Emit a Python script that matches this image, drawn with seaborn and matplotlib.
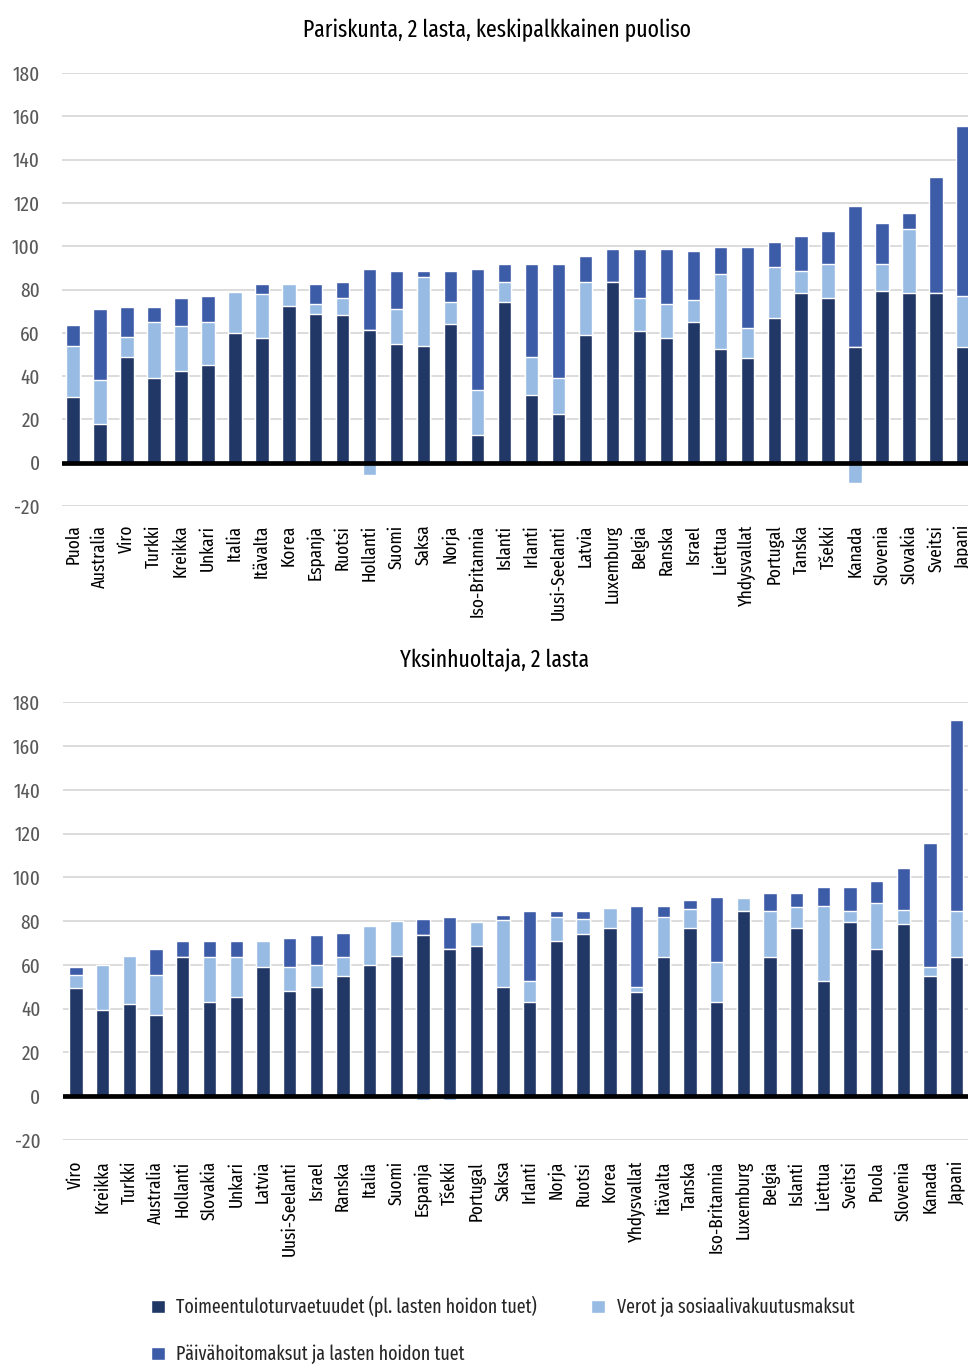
import numpy as np
import matplotlib
matplotlib.use("Agg")
import matplotlib.pyplot as plt
import seaborn as sns
from matplotlib.patches import Patch
from matplotlib import font_manager

# Couple with two children, spouse on average wage
couple_countries = ["Puola", "Australia", "Viro", "Turkki", "Kreikka", "Unkari", "Italia",
                    "Itävalta", "Korea", "Espanja", "Ruotsi", "Hollanti", "Suomi", "Saksa",
                    "Norja", "Iso-Britannia", "Islanti", "Irlanti", "Uusi-Seelanti", "Latvia",
                    "Luxemburg", "Belgia", "Ranska", "Israel", "Liettua", "Yhdysvallat",
                    "Portugal", "Tanska", "Tšekki", "Kanada", "Slovenia", "Slovakia",
                    "Sveitsi", "Japani"]
couple_benefits = [30.5, 18, 49, 39, 42.5, 45, 60, 57.5, 72.5, 68.5, 68, 61.5, 55, 54, 64, 13,
                   74, 31.5, 22.5, 59, 83.5, 61, 57.5, 65, 52.5, 48.5, 67, 78.5, 76, 53.5,
                   79.5, 78.5, 78.5, 53.5]
couple_taxes = [23.5, 20, 9, 26, 20.5, 20, 19, 20.5, 10, 5, 8, -5.5, 16, 32, 10, 20.5, 9.5,
                17.5, 16.5, 24.5, 0, 15, 16, 10, 34.5, 13.5, 23.5, 10, 16, -9.5, 12.5, 29.5,
                0, 23.5]
couple_childcare = [9.5, 33, 14, 7, 13, 12, 0, 4.5, 0, 9, 7.5, 28, 17.5, 2.5, 14.5, 56, 8.5,
                    43, 53, 12, 15, 22.5, 25, 23, 12.5, 37.5, 11.5, 16, 15, 65, 18.5, 7.5,
                    53.5, 78.5]

# Single parent with two children
single_countries = ["Viro", "Kreikka", "Turkki", "Australia", "Hollanti", "Slovakia", "Unkari",
                    "Latvia", "Uusi-Seelanti", "Israel", "Ranska", "Italia", "Suomi", "Espanja",
                    "Tšekki", "Portugal", "Saksa", "Irlanti", "Norja", "Ruotsi", "Korea",
                    "Yhdysvallat", "Itävalta", "Tanska", "Iso-Britannia", "Luxemburg", "Belgia",
                    "Islanti", "Liettua", "Sveitsi", "Puola", "Slovenia", "Kanada", "Japani"]
single_benefits = [49.5, 39.5, 42, 37, 63.5, 43, 45.5, 59, 48, 50, 55, 60, 64, 73.5, 67.5,
                   68.5, 50, 43, 71, 74, 77, 47.5, 63.5, 77, 43, 84.5, 63.5, 77, 52.5, 79.5,
                   67.5, 78.5, 55, 63.5]
single_taxes = [6, 20.5, 22, 18.5, 0, 20.5, 18, 12, 11, 10, 8.5, 18, 16, -1.5, -1.5, 11, 30.5,
                9.5, 11, 7, 9, 2.5, 18.5, 8.5, 18.5, 6, 21, 9.5, 34.5, 5, 21, 6.5, 4, 21]
single_childcare = [3.5, 0, 0, 12, 7.5, 7.5, 7.5, 0, 13.5, 13.5, 11, 0, 0, 7.5, 14.5, 0, 2.5,
                    32, 2.5, 3.5, 0, 37, 5, 4, 29.5, 0, 8.5, 6.5, 8.5, 11, 10, 19.5, 56.5, 87.5]

titles = ["Pariskunta, 2 lasta, keskipalkkainen puoliso", "Yksinhuoltaja, 2 lasta"]
series_labels = ["Toimeentuloturvaetuudet (pl. lasten hoidon tuet)",
                 "Verot ja sosiaalivakuutusmaksut",
                 "Päivähoitomaksut ja lasten hoidon tuet"]
y_ticks = list(range(-20, 181, 20))

DARK = "#213765"
LIGHT = "#97BBE3"
MID = "#3D5CA8"
GRID = "#D9D9D9"

sns.set_theme(style="white")
installed = {f.name for f in font_manager.fontManager.ttflist}
preferred = ["Fira Sans Extra Condensed", "PT Sans Narrow", "Asap Condensed",
             "Fira Sans Condensed", "Archivo Narrow", "Roboto Condensed"]
FONT = next((name for name in preferred if name in installed), "DejaVu Sans")
plt.rcParams["font.family"] = [FONT, "DejaVu Sans"]
plt.rcParams["axes.unicode_minus"] = False

W, H = 968, 1365
fig = plt.figure(figsize=(W / 100, H / 100), dpi=100)


def px_axes(left, top, right, bottom):
    return fig.add_axes([left / W, 1 - bottom / H, (right - left) / W, (bottom - top) / H])


def draw_panel(ax, countries, benefits, taxes, childcare, xlim, xpad, ypad):
    b = np.array(benefits, dtype=float)
    t = np.array(taxes, dtype=float)
    c = np.array(childcare, dtype=float)
    t_pos = np.clip(t, 0, None)
    t_neg = np.clip(t, None, 0)
    # stacked bars drawn back to front; negative taxes hang below zero
    layers = [(b + t_pos + c, MID), (b + t_pos, LIGHT), (b, DARK), (t_neg, LIGHT)]
    for heights, col in layers:
        sns.barplot(x=countries, y=heights, order=countries, color=col, saturation=1,
                    width=0.5, edgecolor="white", linewidth=1.0, errorbar=None,
                    ax=ax, zorder=3)
    for v in y_ticks:
        if v != 0:
            ax.axhline(v, color=GRID, lw=1.3, zorder=1)
    ax.axhline(0, color="black", lw=3.4, zorder=6)
    ax.set_ylim(-20, 180)
    ax.set_xlim(*xlim)
    ax.set_yticks(y_ticks)
    ax.set_xlabel("")
    ax.set_ylabel("")
    sns.despine(ax=ax, left=True, bottom=True)
    ax.tick_params(axis="y", length=0, pad=ypad, labelsize=15, labelcolor="#595959")
    ax.tick_params(axis="x", length=0, pad=xpad, labelsize=13.5, labelrotation=90,
                   labelcolor="black")


ax1 = px_axes(61.7, 73, 61.7 + 33.84 * 26.97, 506)
draw_panel(ax1, couple_countries, couple_benefits, couple_taxes, couple_childcare,
           (-0.42, 33.42), 13.5, 15.5)

ax2 = px_axes(62.7, 702.3, 62.7 + 34 * 26.69, 1140)
draw_panel(ax2, single_countries, single_benefits, single_taxes, single_childcare,
           (-0.5, 33.5), 15, 16)

fig.text(497 / W, 1 - 30 / H, titles[0], ha="center", va="center", fontsize=17, color="black")
fig.text(495 / W, 1 - 660 / H, titles[1], ha="center", va="center", fontsize=17, color="black")

handles = [Patch(facecolor=DARK), Patch(facecolor=MID), Patch(facecolor=LIGHT)]
labels = [series_labels[0], series_labels[2], series_labels[1]]
fig.legend(handles, labels, ncol=2, loc="upper left", bbox_to_anchor=(151 / W, 1 - 1296 / H),
           frameon=False, fontsize=14, handlelength=0.7, handleheight=0.7,
           handletextpad=0.6, columnspacing=2.8, labelspacing=1.4, borderpad=0,
           borderaxespad=0)

fig.savefig("out.png", dpi=100)
